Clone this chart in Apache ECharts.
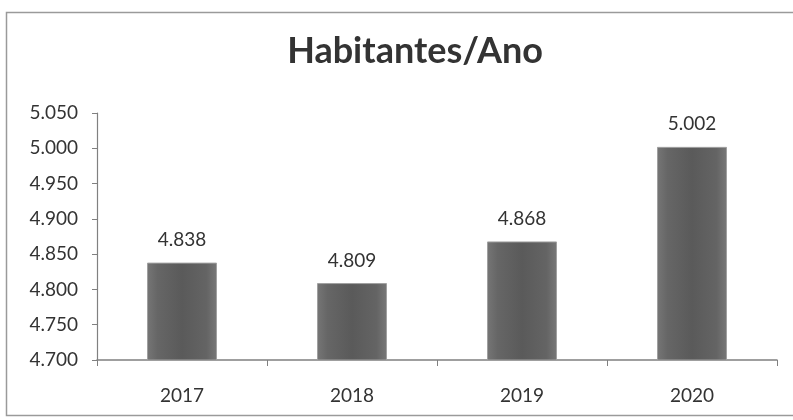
<!DOCTYPE html>
<html><head><meta charset="utf-8">
<script src="https://cdn.jsdelivr.net/npm/echarts@6/dist/echarts.min.js"></script>
<style>html,body{margin:0;padding:0;background:#fff}#c{width:793px;height:420px}</style>
</head><body><div id="c"></div>
<script>
var categories = ['2017', '2018', '2019', '2020'];
var habitantes = [4838, 4809, 4868, 5002];
var yMin = 4700, yMax = 5050, yStep = 50;

function fmt(v){ var s = String(Math.round(v)); return s.slice(0, s.length-3) + '.' + s.slice(-3); }

var chart = echarts.init(document.getElementById('c'), null, {renderer:'canvas'});
chart.setOption({
  backgroundColor: '#ffffff',
  animation: false,
  graphic: [{type:'rect', shape:{x:6.5, y:12.5, width:800, height:403}, style:{fill:'none', stroke:'#9a9a9a', lineWidth:1.5}, silent:true}],
  title: {text:'Habitantes/Ano', left:410, textAlign:'center', top:28, textStyle:{fontFamily:'Lato', fontWeight:'bold', fontSize:36, color:'#333'}},
  grid: {left:97, right:16, top:113, bottom:60},
  xAxis: {type:'category', data:categories,
    axisLine:{lineStyle:{color:'#808080', width:1.5}},
    axisTick:{show:true, alignWithLabel:false, length:6, lineStyle:{color:'#808080'}},
    axisLabel:{fontFamily:'Lato', fontSize:19, color:'#333', margin:26}},
  yAxis: {type:'value', min:yMin, max:yMax, interval:yStep,
    splitLine:{show:false},
    axisLine:{show:true, lineStyle:{color:'#808080', width:1.2}},
    axisTick:{show:true, length:5, lineStyle:{color:'#808080'}},
    axisLabel:{fontFamily:'Lato', fontSize:19, color:'#333', margin:19, formatter:fmt}},
  series: [{type:'bar', data:habitantes, barWidth:70,
    itemStyle:{color:new echarts.graphic.LinearGradient(0,0,1,0,[
      {offset:0,color:'#767676'},{offset:0.15,color:'#666'},{offset:0.5,color:'#5a5a5a'},{offset:0.85,color:'#646464'},{offset:1,color:'#787878'}]),
      borderColor:'#a0a0a0', borderWidth:1},
    label:{show:true, position:'top', distance:13, formatter:function(p){return fmt(p.value);}, fontFamily:'Lato', fontSize:19, color:'#333'}}]
});
</script></body></html>
